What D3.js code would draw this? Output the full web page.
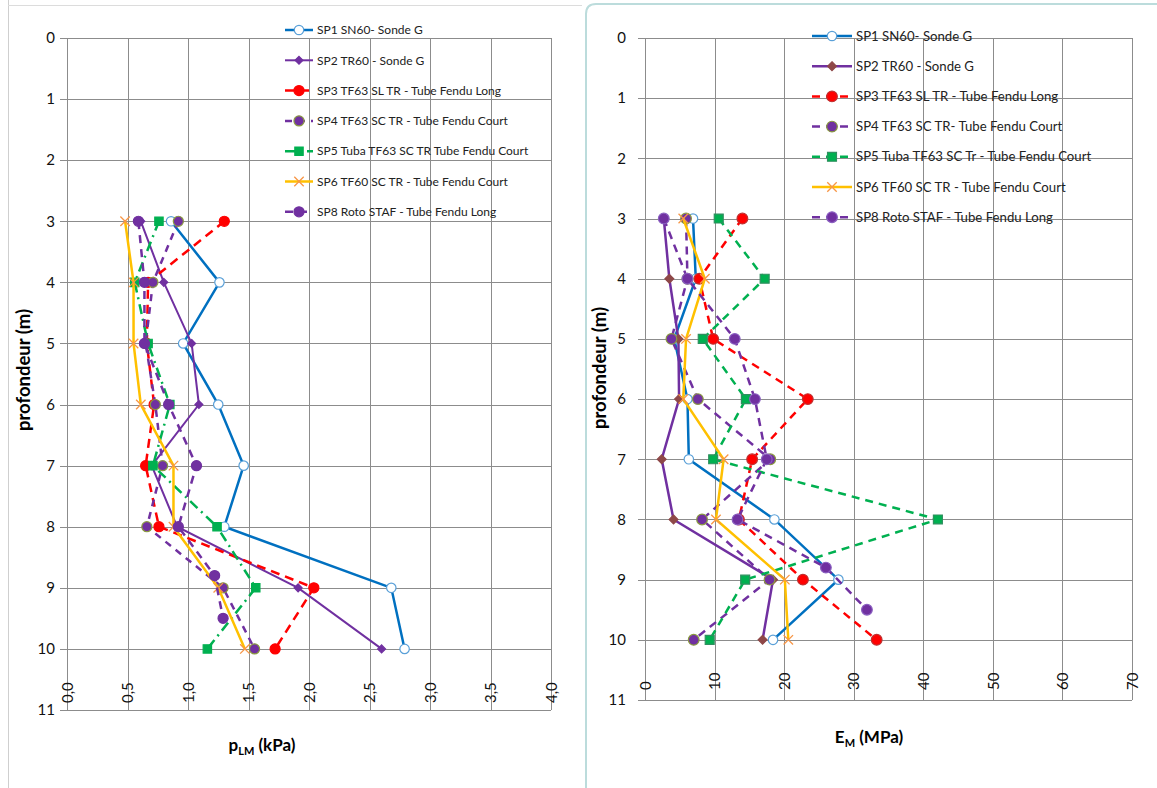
<!DOCTYPE html>
<html>
<head>
<meta charset="utf-8">
<script src="https://cdn.jsdelivr.net/npm/d3@7"></script>
<style>
  body { margin: 0; background: #fff; }
  svg { display: block; font-family: Lato, "Open Sans", sans-serif; }
</style>
</head>
<body>
<svg id="chart" width="1157" height="788"></svg>
<script>
// depths (m)
const depths = [3, 4, 5, 6, 7, 8, 9, 10];
const depthsSP8 = [3, 4, 5, 6, 7, 8, 8.8, 9.5];
const depthTicks = d3.range(0, 12);

// pLM (kPa) - left chart
const plmSP1 = [0.86, 1.26, 0.96, 1.25, 1.46, 1.30, 2.68, 2.79];
const plmSP2 = [0.61, 0.80, 1.03, 1.09, 0.70, 0.91, 1.91, 2.60];
const plmSP3 = [1.30, 0.67, 0.66, 0.72, 0.65, 0.76, 2.04, 1.72];
const plmSP4 = [0.92, 0.71, 0.65, 0.73, 0.79, 0.66, 1.29, 1.55];
const plmSP5 = [0.76, 0.56, 0.67, 0.85, 0.71, 1.24, 1.56, 1.16];
const plmSP6 = [0.48, 0.55, 0.55, 0.61, 0.88, 0.88, 1.25, 1.47];
const plmSP8 = [0.59, 0.64, 0.64, 0.84, 1.07, 0.92, 1.22, 1.29];
const plmTicks = d3.range(0, 4.01, 0.5);

// EM (MPa) - right chart
const emSP1 = [6.9, 7.3, 4.2, 6.1, 6.3, 18.6, 27.8, 18.4];
const emSP2 = [2.7, 3.5, 4.8, 4.9, 2.4, 4.1, 18.4, 16.9];
const emSP3 = [14.0, 7.8, 9.8, 23.4, 15.4, 13.5, 22.7, 33.3];
const emSP4 = [5.9, 6.1, 3.8, 7.6, 18.0, 8.2, 17.9, 7.0];
const emSP5 = [10.6, 17.2, 8.3, 14.5, 9.8, 42.1, 14.4, 9.3];
const emSP6 = [5.5, 8.6, 5.9, 5.5, 11.3, 10.2, 20.1, 20.6];
const emSP8 = [2.7, 6.1, 12.9, 15.8, 17.5, 13.3, 26.0, 31.9];
const emTicks = d3.range(0, 71, 10);

const legendLeft = [
  'SP1 SN60- Sonde G',
  'SP2 TR60 - Sonde G',
  'SP3 TF63 SL TR - Tube Fendu Long',
  'SP4 TF63 SC TR - Tube Fendu Court',
  'SP5 Tuba TF63 SC TR  Tube Fendu Court',
  'SP6 TF60 SC TR - Tube Fendu Court',
  'SP8 Roto STAF  - Tube Fendu Long',
];
const legendRight = [
  'SP1 SN60- Sonde G',
  'SP2 TR60 - Sonde G',
  'SP3 TF63 SL TR - Tube Fendu Long',
  'SP4 TF63 SC TR- Tube Fendu Court',
  'SP5 Tuba TF63 SC Tr - Tube Fendu Court',
  'SP6 TF60 SC TR - Tube Fendu Court',
  'SP8 Roto STAF - Tube Fendu Long',
];

const BLUE = '#0070C0', PURPLE = '#7030A0', RED = '#FF0000', GREEN = '#00B050',
  ORANGE = '#FFC000', XORANGE = '#F79646', OLIVE = '#8a9a40', BROWN = '#8E4848';

const fr = d3.formatLocale({ decimal: ',', thousands: ' ', grouping: [3], currency: ['', ''] });
const fmt1 = fr.format('.1f');

const svg = d3.select('#chart');

// panel frames
svg.append('line').attr('x1', 8.5).attr('x2', 8.5).attr('y1', 0).attr('y2', 788)
  .attr('stroke', '#cfcfcf');
svg.append('line').attr('x1', 8).attr('x2', 582).attr('y1', 5.5).attr('y2', 5.5)
  .attr('stroke', '#dcdcdc');
svg.append('path').attr('d', 'M586,788 L586,14 Q586,4 596,4 L1157,4')
  .attr('fill', 'none').attr('stroke', '#bcdcdc').attr('stroke-width', 2);

function drawChart(cfg) {
  const g = svg.append('g');
  const x = d3.scaleLinear().domain(cfg.xDomain).range(cfg.xRange);
  const y = d3.scaleLinear().domain([0, 11]).range(cfg.yRange);

  // horizontal grid
  g.append('g').selectAll('line').data(depthTicks).join('line')
    .attr('x1', cfg.xRange[0] - 7).attr('x2', cfg.xRange[1])
    .attr('y1', (d) => Math.round(y(d)) + 0.5).attr('y2', (d) => Math.round(y(d)) + 0.5)
    .attr('stroke', '#8c8c8c');
  // vertical grid
  g.append('g').selectAll('line').data(cfg.xTicks).join('line')
    .attr('x1', (d) => Math.round(x(d)) + 0.5).attr('x2', (d) => Math.round(x(d)) + 0.5)
    .attr('y1', cfg.yRange[0]).attr('y2', cfg.yRange[1])
    .attr('stroke', '#8c8c8c');

  // y axis labels
  const yAxis = d3.axisLeft(y).tickValues(depthTicks).tickSize(0).tickPadding(cfg.yPad);
  const ya = g.append('g').attr('transform', `translate(${cfg.xRange[0]},0)`).call(yAxis);
  ya.select('.domain').remove();
  ya.selectAll('text').attr('font-size', 15).attr('fill', '#111')
    .attr('font-family', 'Lato, sans-serif');

  // x axis labels (rotated)
  const xAxis = d3.axisBottom(x).tickValues(cfg.xTicks).tickSize(0).tickFormat(cfg.xFormat);
  const xa = g.append('g').attr('transform', `translate(0,${cfg.yRange[1]})`).call(xAxis);
  xa.select('.domain').remove();
  xa.selectAll('text')
    .attr('transform', 'rotate(-90)')
    .attr('x', cfg.xLabOff).attr('y', 0).attr('dy', '0.35em')
    .attr('text-anchor', 'start')
    .attr('font-size', 15).attr('fill', '#111').attr('font-family', 'Lato, sans-serif');

  // axis titles
  g.append('text')
    .attr('transform', `translate(${cfg.yTitleX},${cfg.yTitleY}) rotate(-90)`)
    .attr('text-anchor', 'middle').attr('font-weight', 'bold').attr('font-size', 18.5)
    .attr('font-family', 'Lato, sans-serif')
    .text('profondeur (m)');
  const xt = g.append('text')
    .attr('x', cfg.xTitleX).attr('y', cfg.xTitleY)
    .attr('text-anchor', 'middle').attr('font-weight', 'bold').attr('font-size', 17)
    .attr('font-family', 'Lato, sans-serif');
  xt.append('tspan').text(cfg.xTitle[0]);
  xt.append('tspan').attr('font-size', 11).attr('dy', 4).text(cfg.xTitle[1]);
  xt.append('tspan').attr('dy', -4).text(cfg.xTitle[2]);

  const line = d3.line().x((d) => x(d.v)).y((d) => y(d.z));

  function marker(sel, s) {
    if (s.marker === 'x') {
      sel.append('path')
        .attr('d', d3.symbol(d3.symbolX, 60)())
        .attr('fill', 'none').attr('stroke', s.mStroke).attr('stroke-width', 1.3);
      return;
    }
    const type = { circle: d3.symbolCircle, square: d3.symbolSquare, diamond: d3.symbolDiamond2 }[s.marker];
    sel.append('path')
      .attr('d', d3.symbol(type, s.mSize)())
      .attr('fill', s.mFill).attr('stroke', s.mStroke).attr('stroke-width', s.mStrokeW || 1.2);
  }

  cfg.series.forEach((s) => {
    const pts = s.depths.map((z, i) => ({ z, v: s.values[i] }));
    const sg = g.append('g');
    sg.append('path').datum(pts)
      .attr('d', line)
      .attr('fill', 'none').attr('stroke', s.color).attr('stroke-width', s.width)
      .attr('stroke-dasharray', s.dash || null);
    sg.selectAll('g.m').data(pts).join('g').attr('class', 'm')
      .attr('transform', (d) => `translate(${x(d.v)},${y(d.z)})`)
      .each(function () { marker(d3.select(this), s); });
  });

  // legend
  const lg = g.append('g');
  cfg.series.forEach((s, i) => {
    const ly = cfg.legY + i * cfg.legStep;
    const it = lg.append('g');
    it.append('line')
      .attr('x1', cfg.legX).attr('x2', cfg.legX + cfg.legW)
      .attr('y1', ly).attr('y2', ly)
      .attr('stroke', s.color).attr('stroke-width', s.width)
      .attr('stroke-dasharray', s.legDash || s.dash || null);
    const mg = it.append('g').attr('transform', `translate(${cfg.legX + cfg.legW / 2},${ly})`);
    marker(mg, s);
    it.append('text')
      .attr('x', cfg.legX + cfg.legW + 4).attr('y', ly).attr('dy', '0.35em')
      .attr('font-size', cfg.legFont).attr('fill', '#222')
      .attr('font-family', 'Lato, sans-serif')
      .text(cfg.legend[i]);
  });
}

drawChart({
  xDomain: [0, 4], xRange: [67, 551], yRange: [38, 710],
  xTicks: plmTicks, xFormat: fmt1, xLabOff: 7, yPad: 12,
  yTitleX: 30, yTitleY: 370, xTitleX: 262, xTitleY: 751,
  xTitle: ['p', 'LM', ' (kPa)'],
  legX: 285, legW: 28, legY: 30, legStep: 30.3, legFont: 12, legend: legendLeft,
  series: [
    { depths, values: plmSP1, color: BLUE, width: 2.5, marker: 'circle', mSize: 70, mFill: '#fff', mStroke: '#5aa0d8' },
    { depths, values: plmSP2, color: PURPLE, width: 2, marker: 'diamond', mSize: 40, mFill: PURPLE, mStroke: PURPLE },
    { depths, values: plmSP3, color: RED, width: 2.5, dash: '9,6', marker: 'circle', mSize: 80, mFill: RED, mStroke: RED },
    { depths, values: plmSP4, color: PURPLE, width: 2.5, dash: '7,6', marker: 'circle', mSize: 80, mFill: PURPLE, mStroke: OLIVE },
    { depths, values: plmSP5, color: GREEN, width: 2.5, dash: '10,5,2,5', legDash: '10,5,2,5', marker: 'square', mSize: 70, mFill: GREEN, mStroke: GREEN },
    { depths, values: plmSP6, color: ORANGE, width: 2.5, marker: 'x', mStroke: XORANGE },
    { depths: depthsSP8, values: plmSP8, color: PURPLE, width: 2.5, dash: '8,6', marker: 'circle', mSize: 80, mFill: PURPLE, mStroke: PURPLE },
  ],
});

drawChart({
  xDomain: [0, 70], xRange: [645, 1132], yRange: [38, 700],
  xTicks: emTicks, xFormat: d3.format('d'), xLabOff: 10, yPad: 19,
  yTitleX: 606, yTitleY: 368, xTitleX: 869, xTitleY: 743,
  xTitle: ['E', 'M', ' (MPa)'],
  legX: 812, legW: 40, legY: 36, legStep: 30.2, legFont: 13.2, legend: legendRight,
  series: [
    { depths, values: emSP1, color: BLUE, width: 2.5, marker: 'circle', mSize: 70, mFill: '#fff', mStroke: '#5aa0d8' },
    { depths, values: emSP2, color: PURPLE, width: 2.5, marker: 'diamond', mSize: 50, mFill: BROWN, mStroke: BROWN },
    { depths, values: emSP3, color: RED, width: 2.5, dash: '8,6', marker: 'circle', mSize: 90, mFill: RED, mStroke: '#c03030' },
    { depths, values: emSP4, color: PURPLE, width: 2.5, dash: '8,6', marker: 'circle', mSize: 90, mFill: PURPLE, mStroke: OLIVE },
    { depths, values: emSP5, color: GREEN, width: 2.5, dash: '8,6', marker: 'square', mSize: 80, mFill: GREEN, mStroke: '#2f8f5f' },
    { depths, values: emSP6, color: ORANGE, width: 2.5, marker: 'x', mStroke: XORANGE },
    { depths: depthsSP8, values: emSP8, color: PURPLE, width: 2.5, dash: '8,6', marker: 'circle', mSize: 90, mFill: PURPLE, mStroke: '#8a5fc0' },
  ],
});
</script>
</body>
</html>
